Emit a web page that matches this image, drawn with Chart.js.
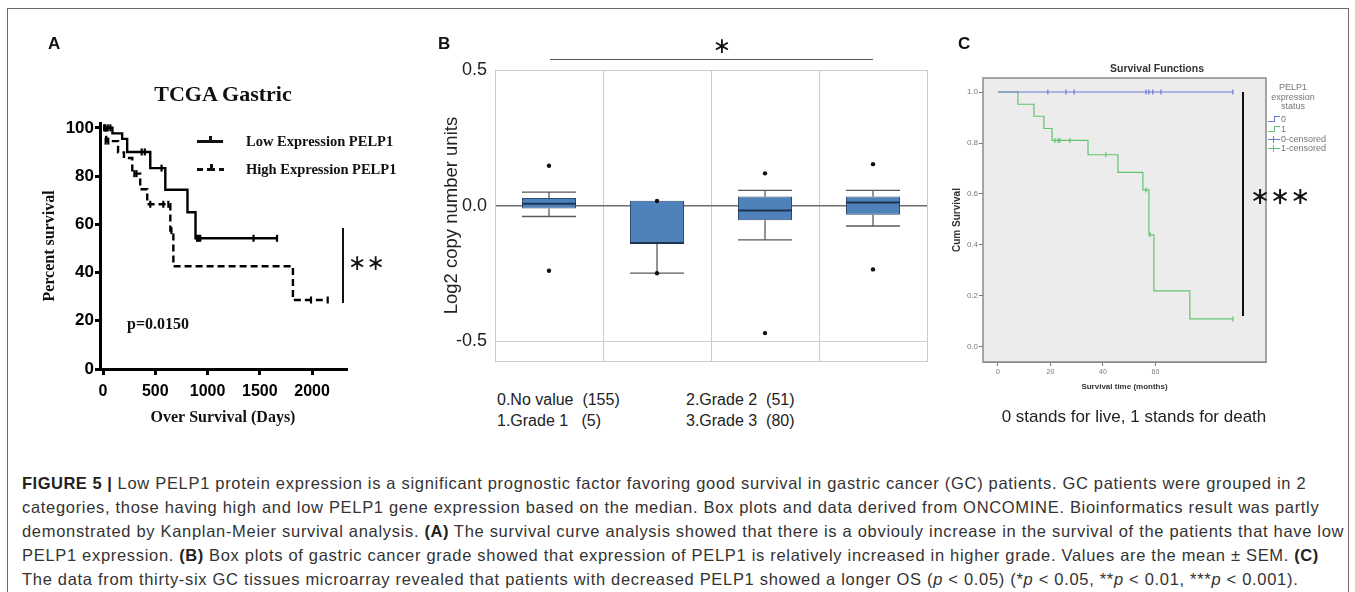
<!DOCTYPE html>
<html>
<head>
<meta charset="utf-8">
<title>Figure 5</title>
<script src="https://cdn.jsdelivr.net/npm/chart.js@4.4.1/dist/chart.umd.min.js"></script>
<style>
  body { margin: 0; width: 1355px; height: 592px; position: relative; overflow: hidden; background: #fff;
         font-family: "Liberation Sans", Arial, sans-serif; color: #222; }
  .frame { position: absolute; left: 7px; top: 8px; width: 1340px; height: 620px; border: 1px solid #6a6a6a; }
  canvas { position: absolute; }
  .t { position: absolute; white-space: nowrap; line-height: 1; transform: translate(0, -50%); }
  .tc { position: absolute; white-space: nowrap; line-height: 1; transform: translate(-50%, -50%); }
  .serif { font-family: "Liberation Serif", "Times New Roman", serif; font-weight: bold; color: #111; }
  .letter { font-weight: bold; font-size: 17px; color: #111; }
  .star { font-family: "DejaVu Sans", sans-serif; color: #111; }
  .bar { position: absolute; background: #111; }
  .cap { position: absolute; left: 22px; font-size: 16.5px; letter-spacing: 0.69px; line-height: 24px; color: #333; white-space: nowrap; }
  .cap b { color: #222; letter-spacing: 0.5px; }
  .leg { font-size: 9px; color: #777; }
</style>
</head>
<body>
<div class="frame"></div>

<canvas id="chartA" width="400" height="440" style="left:0;top:0"></canvas>
<canvas id="chartB" width="570" height="360" style="left:380px;top:20px"></canvas>
<canvas id="chartC" width="455" height="370" style="left:900px;top:50px"></canvas>

<!-- panel A annotations -->
<div class="t letter" style="left:48px;top:43px">A</div>
<div class="tc serif" style="left:223px;top:94px;font-size:22px">TCGA Gastric</div>
<div class="bar" style="left:197px;top:140px;width:26px;height:2.5px"></div>
<div class="bar" style="left:209px;top:136px;width:2.5px;height:6px"></div>
<div class="t serif" style="left:246px;top:141px;font-size:14.5px">Low Expression PELP1</div>
<div class="bar" style="left:197px;top:168px;width:6px;height:2.5px"></div>
<div class="bar" style="left:207px;top:168px;width:8px;height:2.5px"></div>
<div class="bar" style="left:210px;top:164px;width:2.5px;height:6px"></div>
<div class="bar" style="left:219px;top:168px;width:5px;height:2.5px"></div>
<div class="t serif" style="left:246px;top:169px;font-size:14.5px">High Expression PELP1</div>
<div class="t serif" style="left:127px;top:324px;font-size:16px">p=0.0150</div>
<div class="bar" style="left:342px;top:228px;width:1.5px;height:75px"></div>
<div class="t star" style="left:348px;top:263px;font-size:22px">∗∗</div>

<!-- panel B annotations -->
<div class="t letter" style="left:438px;top:43px">B</div>
<div class="bar" style="left:550px;top:59px;width:323px;height:1px;background:#555"></div>
<div class="tc star" style="left:722px;top:46px;font-size:22px">∗</div>
<div class="t" style="left:497px;top:400px;font-size:16px">0.No value&nbsp;&nbsp;(155)</div>
<div class="t" style="left:497px;top:421px;font-size:16px">1.Grade 1&nbsp;&nbsp;&nbsp;(5)</div>
<div class="t" style="left:686px;top:400px;font-size:16px">2.Grade 2&nbsp;&nbsp;(51)</div>
<div class="t" style="left:686px;top:421px;font-size:16px">3.Grade 3&nbsp;&nbsp;(80)</div>

<!-- panel C annotations -->
<div class="t letter" style="left:958px;top:43px">C</div>
<div class="tc" style="left:1157px;top:68px;font-size:10.5px;font-weight:bold;color:#333">Survival Functions</div>
<div class="tc leg" style="left:1293px;top:87px">PELP1</div>
<div class="tc leg" style="left:1293px;top:97px">expression</div>
<div class="tc leg" style="left:1293px;top:106px">status</div>
<div class="bar" style="left:1268px;top:121px;width:6px;height:1.2px;background:#6a78d1"></div>
<div class="bar" style="left:1274px;top:116px;width:1.2px;height:6px;background:#6a78d1"></div>
<div class="bar" style="left:1274px;top:116px;width:6px;height:1.2px;background:#6a78d1"></div>
<div class="t leg" style="left:1281px;top:119px">0</div>
<div class="bar" style="left:1268px;top:131px;width:6px;height:1.2px;background:#62c46e"></div>
<div class="bar" style="left:1274px;top:126px;width:1.2px;height:6px;background:#62c46e"></div>
<div class="bar" style="left:1274px;top:126px;width:6px;height:1.2px;background:#62c46e"></div>
<div class="t leg" style="left:1281px;top:129px">1</div>
<div class="bar" style="left:1268px;top:139px;width:12px;height:1.2px;background:#6a78d1"></div>
<div class="bar" style="left:1273px;top:136px;width:1.2px;height:7px;background:#6a78d1"></div>
<div class="t leg" style="left:1281px;top:139px">0-censored</div>
<div class="bar" style="left:1268px;top:148px;width:12px;height:1.2px;background:#62c46e"></div>
<div class="bar" style="left:1273px;top:145px;width:1.2px;height:7px;background:#62c46e"></div>
<div class="t leg" style="left:1281px;top:148px">1-censored</div>
<div class="bar" style="left:1242px;top:92px;width:1.5px;height:224px"></div>
<div class="t star" style="left:1250px;top:196px;font-size:24px">∗∗∗</div>
<div class="tc" style="left:1134px;top:416px;font-size:17px;color:#222">0 stands for live, 1 stands for death</div>

<!-- caption -->
<div class="cap" style="top:471px"><b>FIGURE 5 |</b> Low PELP1 protein expression is a significant prognostic factor favoring good survival in gastric cancer (GC) patients. GC patients were grouped in 2</div>
<div class="cap" style="top:495px">categories, those having high and low PELP1 gene expression based on the median. Box plots and data derived from ONCOMINE. Bioinformatics result was partly</div>
<div class="cap" style="top:519px">demonstrated by Kanplan-Meier survival analysis. <b>(A)</b> The survival curve analysis showed that there is a obviouly increase in the survival of the patients that have low</div>
<div class="cap" style="top:543px">PELP1 expression. <b>(B)</b> Box plots of gastric cancer grade showed that expression of PELP1 is relatively increased in higher grade. Values are the mean ± SEM. <b>(C)</b></div>
<div class="cap" style="top:567px">The data from thirty-six GC tissues microarray revealed that patients with decreased PELP1 showed a longer OS (<i>p</i> &lt; 0.05) (*<i>p</i> &lt; 0.05, **<i>p</i> &lt; 0.01, ***<i>p</i> &lt; 0.001).</div>

<script>
// ---- A: TCGA gastric, percent survival over days ----
const lowDays = [0, 90, 183, 231, 452, 596, 808, 885, 1665];
const lowSurv = [100, 97.7, 95.4, 90.0, 83.3, 74.3, 65.0, 54.2, 54.2];
const lowCensorDays = [20, 45, 70, 370, 400, 560, 900, 915, 930, 1440, 1665];
const lowCensorSurv = [100, 100, 100, 90, 90, 83.3, 54.2, 54.2, 54.2, 54.2, 54.2];
const highDays = [0, 30, 144, 200, 280, 356, 423, 644, 673, 1817, 2150];
const highSurv = [100, 94.5, 89.8, 87.5, 81.0, 74.5, 68.3, 57.4, 42.6, 28.6, 28.6];
const highCensorDays = [10, 25, 50, 300, 320, 452, 577, 625, 654, 1990, 2150];
const highCensorSurv = [100, 94.5, 94.5, 81, 81, 68.3, 68.3, 68.3, 57.4, 28.6, 28.6];
const dayTicks = [0, 500, 1000, 1500, 2000];
const percentTicks = [0, 20, 40, 60, 80, 100];

// ---- B: log2 copy number by grade (box plot) ----
const gradeLabels = ["0", "1", "2", "3"];
const boxQ1 = [-0.011, -0.138, -0.054, -0.034];
const boxQ3 = [0.028, 0.018, 0.034, 0.034];
const boxMedian = [0.007, -0.138, -0.018, 0.012];
const whiskerLow = [-0.04, -0.249, -0.126, -0.075];
const whiskerHigh = [0.05, 0.018, 0.056, 0.056];
const outlierHigh = [0.147, 0.017, 0.119, 0.153];
const outlierLow = [-0.24, -0.249, -0.47, -0.235];
const log2Ticks = [-0.5, 0, 0.5];

// ---- C: microarray, cum survival over months ----
const greenMonths = [0, 7.6, 13.7, 17.5, 20.6, 34.3, 45.7, 55.2, 57.5, 59.4, 73.1, 89.5];
const greenSurv = [1, 0.952, 0.905, 0.857, 0.81, 0.754, 0.685, 0.616, 0.44, 0.22, 0.11, 0.11];
const greenCensorMonths = [21.7, 22.9, 23.6, 27.4, 41.1, 56.4, 57.9, 89.5];
const greenCensorSurv = [0.81, 0.81, 0.81, 0.81, 0.754, 0.616, 0.44, 0.11];
const blueMonths = [0, 89.5];
const blueSurv = [1, 1];
const blueCensorMonths = [19.0, 25.9, 29.0, 56.4, 57.5, 59.0, 62.1, 89.5];
const blueCensorSurv = [1, 1, 1, 1, 1, 1, 1, 1];
const monthTicks = [0, 20, 40, 60];
const cumTicks = [0, 0.2, 0.4, 0.6, 0.8, 1.0];

Chart.defaults.font.family = "'Liberation Sans', Arial, sans-serif";
Chart.defaults.animation = false;
Chart.defaults.plugins.legend.display = false;
Chart.defaults.plugins.tooltip.enabled = false;

const toPoints = (xs, ys) => xs.map((x, i) => ({ x: x, y: ys[i] }));
const fixTicks = list => scale => { scale.ticks = list.map(v => ({ value: v })); };
const serifBold = size => ({ family: "'Liberation Serif', 'Times New Roman', serif", size: size, weight: 'bold' });

// panel A
new Chart(document.getElementById("chartA"), {
  type: "scatter",
  data: {
    datasets: [
      { data: toPoints(lowDays, lowSurv), showLine: true, stepped: "before", borderColor: "#000", borderWidth: 2.4, pointRadius: 0 },
      { data: toPoints(highDays, highSurv), showLine: true, stepped: "before", borderColor: "#000", borderWidth: 2.4, borderDash: [7, 4], pointRadius: 0 },
      { data: toPoints(lowCensorDays, lowCensorSurv), pointStyle: "line", pointRotation: 90, pointRadius: 3.5, pointBorderColor: "#000", pointBorderWidth: 2.2 },
      { data: toPoints(highCensorDays, highCensorSurv), pointStyle: "line", pointRotation: 90, pointRadius: 3.5, pointBorderColor: "#000", pointBorderWidth: 2.2 }
    ]
  },
  options: {
    responsive: false,
    layout: { padding: { left: 30, top: 123, right: 54, bottom: 0 } },
    scales: {
      x: {
        type: "linear", min: -29, max: 2325,
        afterBuildTicks: fixTicks(dayTicks),
        afterFit: s => { s.height = 71; },
        grid: { drawOnChartArea: false, color: "#000", lineWidth: 3, tickLength: 6 },
        border: { color: "#000", width: 3 },
        ticks: { color: "#000", font: { size: 16, weight: "bold" }, padding: 7, maxRotation: 0, callback: v => String(v) },
        title: { display: true, text: "Over Survival (Days)", color: "#111", font: serifBold(16), padding: { top: 0, bottom: 13 } }
      },
      y: {
        min: 0, max: 102,
        afterBuildTicks: fixTicks(percentTicks),
        afterFit: s => { s.width = 70; },
        grid: { drawOnChartArea: false, color: "#000", lineWidth: 3, tickLength: 5 },
        border: { color: "#000", width: 3 },
        ticks: { color: "#000", font: { size: 17, weight: "bold" }, padding: 1 },
        title: { display: true, text: "Percent survival", color: "#111", font: serifBold(16), padding: { top: 10, bottom: 0 } }
      }
    }
  }
});

// panel B: whiskers, caps and medians drawn right after the boxes
const boxParts = {
  id: "boxParts",
  afterDatasetDraw(chart, args) {
    if (args.index !== 0) return;
    const { ctx, scales: { x, y } } = chart;
    const bars = chart.getDatasetMeta(0).data;
    ctx.save();
    gradeLabels.forEach((g, i) => {
      const cx = x.getPixelForValue(i);
      const half = bars[i].width / 2;
      ctx.strokeStyle = "#5a5a5a";
      ctx.lineWidth = 1.3;
      ctx.beginPath();
      if (whiskerHigh[i] > boxQ3[i]) {
        ctx.moveTo(cx, y.getPixelForValue(boxQ3[i]));
        ctx.lineTo(cx, y.getPixelForValue(whiskerHigh[i]));
        ctx.moveTo(cx - half, y.getPixelForValue(whiskerHigh[i]));
        ctx.lineTo(cx + half, y.getPixelForValue(whiskerHigh[i]));
      }
      ctx.moveTo(cx, y.getPixelForValue(boxQ1[i]));
      ctx.lineTo(cx, y.getPixelForValue(whiskerLow[i]));
      ctx.moveTo(cx - half, y.getPixelForValue(whiskerLow[i]));
      ctx.lineTo(cx + half, y.getPixelForValue(whiskerLow[i]));
      ctx.stroke();
      ctx.strokeStyle = "#1e3552";
      ctx.lineWidth = 2;
      ctx.beginPath();
      ctx.moveTo(cx - half, y.getPixelForValue(boxMedian[i]));
      ctx.lineTo(cx + half, y.getPixelForValue(boxMedian[i]));
      ctx.stroke();
    });
    ctx.restore();
  }
};

new Chart(document.getElementById("chartB"), {
  type: "bar",
  data: {
    labels: gradeLabels,
    datasets: [
      { data: boxQ1.map((q, i) => [q, boxQ3[i]]), backgroundColor: "#4f81bb", borderColor: "#2d4d72", borderWidth: 1,
        borderSkipped: false, barPercentage: 0.5, categoryPercentage: 1, order: 1 },
      { type: "line", data: outlierHigh, showLine: false, pointRadius: 2.2, pointBackgroundColor: "#111", pointBorderWidth: 0, order: 0 },
      { type: "line", data: outlierLow, showLine: false, pointRadius: 2.2, pointBackgroundColor: "#111", pointBorderWidth: 0, order: 0 }
    ]
  },
  options: {
    responsive: false,
    layout: { padding: { left: 50, top: 50, right: 23, bottom: 0 } },
    scales: {
      x: {
        afterFit: s => { s.height = 18; },
        grid: { offset: true, color: "#cccccc", drawTicks: false },
        border: { color: "#cccccc" },
        ticks: { color: "#444", font: { size: 9 }, padding: -11 }
      },
      y: {
        min: -0.5735, max: 0.5,
        afterBuildTicks: fixTicks(log2Ticks),
        afterFit: s => { s.width = 65; },
        grid: { drawTicks: false, color: c => (c.tick && c.tick.value === 0 ? "#6e6e6e" : "#cccccc"),
                lineWidth: c => (c.tick && c.tick.value === 0 ? 1.6 : 1) },
        border: { color: "#cccccc" },
        ticks: { color: "#222", font: { size: 18 }, padding: 8, callback: v => v.toFixed(1) },
        title: { display: true, text: "Log2 copy number units", color: "#222", font: { size: 18.5 }, padding: { top: 11, bottom: 0 } }
      }
    }
  },
  plugins: [boxParts]
});

// panel C: grey plot background with a frame
const plotFrame = {
  id: "plotFrame",
  beforeDatasetsDraw(chart) {
    const { ctx, chartArea: a } = chart;
    ctx.save();
    ctx.fillStyle = "#ececec";
    ctx.fillRect(a.left, a.top, a.width, a.height);
    ctx.restore();
  },
  afterDraw(chart) {
    const { ctx, chartArea: a } = chart;
    ctx.save();
    ctx.strokeStyle = "#8a8a8a";
    ctx.lineWidth = 1.5;
    ctx.strokeRect(a.left, a.top, a.width, a.height);
    ctx.restore();
  }
};

new Chart(document.getElementById("chartC"), {
  type: "scatter",
  data: {
    datasets: [
      { data: toPoints(blueMonths, blueSurv), showLine: true, stepped: "before", borderColor: "#6a78d1", borderWidth: 1.2, pointRadius: 0 },
      { data: toPoints(greenMonths, greenSurv), showLine: true, stepped: "before", borderColor: "#62c46e", borderWidth: 1.2, pointRadius: 0 },
      { data: toPoints(blueCensorMonths, blueCensorSurv), pointStyle: "line", pointRotation: 90, pointRadius: 2.5, pointBorderColor: "#6a78d1", pointBorderWidth: 1.2 },
      { data: toPoints(greenCensorMonths, greenCensorSurv), pointStyle: "line", pointRotation: 90, pointRadius: 2.5, pointBorderColor: "#62c46e", pointBorderWidth: 1.2 }
    ]
  },
  options: {
    responsive: false,
    layout: { padding: { left: 40, top: 28, right: 89, bottom: 0 } },
    scales: {
      x: {
        type: "linear", min: -5.7, max: 102.1,
        afterBuildTicks: fixTicks(monthTicks),
        afterFit: s => { s.height = 58; },
        grid: { drawOnChartArea: false, color: "#777", tickLength: 4 },
        border: { color: "#8a8a8a" },
        ticks: { color: "#777", font: { size: 7 }, padding: 2, maxRotation: 0 },
        title: { display: true, text: "Survival time (months)", color: "#333", font: { size: 8, weight: "bold" }, padding: { top: 0, bottom: 28 } }
      },
      y: {
        min: -0.059, max: 1.055,
        afterBuildTicks: fixTicks(cumTicks),
        afterFit: s => { s.width = 43; },
        grid: { drawOnChartArea: false, color: "#777", tickLength: 4 },
        border: { color: "#8a8a8a" },
        ticks: { color: "#777", font: { size: 8 }, padding: 1, callback: v => v.toFixed(1) },
        title: { display: true, text: "Cum Survival", color: "#333", font: { size: 10, weight: "bold" }, padding: { top: 11, bottom: 0 } }
      }
    }
  },
  plugins: [plotFrame]
});
</script>
</body>
</html>
